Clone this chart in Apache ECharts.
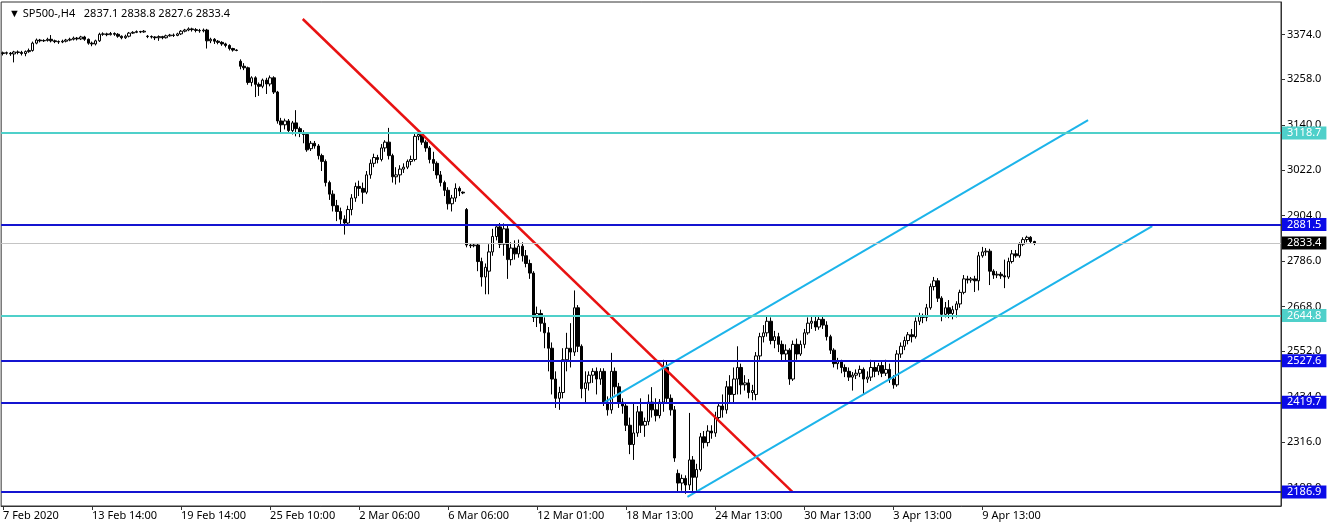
<!DOCTYPE html>
<html><head><meta charset="utf-8">
<script src="https://cdn.jsdelivr.net/npm/echarts/dist/echarts.min.js"></script>
<style>html,body{margin:0;padding:0;background:#fff}#c{width:1332px;height:528px}</style>
</head><body><div id="c"></div>
<script>
const symbolName = 'SP500-,H4';
const opens = [
3325,3327,3326,3324,3329,3328,3325,3330,3333,3352,
3360,3358,3359,3362,3358,3356,3355,3357,3360,3362,
3365,3363,3368,3362,3352,3350,3358,3375,3376,3374,
3377,3375,3370,3366,3370,3378,3380,3382,3381,3370,
3369,3368,3366,3369,3366,3371,3373,3372,3376,3383,
3386,3389,3387,3385,3384,3386,3358,3362,3357,3354,
3350,3346,3338,3334,3305,3292,3288,3250,3262,3245,
3240,3256,3246,3262,3225,3150,3140,3150,3125,3145,
3130,3120,3115,3078,3092,3085,3060,3045,2990,2960,
2930,2915,2895,2885,2920,2950,2980,2975,2965,3010,
3040,3055,3050,3080,3095,3060,3005,3010,3025,3030,
3045,3050,3110,3115,3095,3080,3050,3040,3010,2990,
2970,2935,2950,2975,2965,2920,2828,2826,2828,2785,
2745,2760,2810,2850,2875,2830,2870,2790,2820,2805,
2825,2800,2780,2755,2640,2650,2625,2600,2560,2480,
2430,2445,2530,2560,2550,2665,2565,2455,2470,2490,
2500,2480,2500,2420,2400,2500,2460,2420,2410,2360,
2310,2340,2395,2360,2370,2420,2400,2385,2420,2510,
2430,2400,2235,2210,2222,2205,2270,2225,2245,2330,
2315,2345,2340,2380,2410,2400,2460,2440,2480,2510,
2465,2470,2445,2440,2540,2590,2600,2630,2580,2590,
2570,2545,2555,2480,2570,2545,2570,2600,2625,2630,
2615,2635,2620,2590,2555,2520,2525,2510,2500,2485,
2490,2495,2505,2480,2485,2510,2500,2515,2495,2505,
2480,2465,2545,2565,2580,2595,2590,2630,2645,2640,
2665,2720,2735,2690,2648,2665,2650,2660,2675,2705,
2740,2737,2740,2735,2800,2810,2812,2760,2750,2752,
2748,2745,2785,2805,2800,2830,2842,2848,2837.1];
const closes = [
3327,3326,3324,3329,3328,3325,3330,3333,3352,3360,
3358,3359,3362,3358,3356,3355,3357,3360,3362,3365,
3363,3368,3362,3352,3350,3358,3375,3376,3374,3377,
3375,3370,3366,3370,3378,3380,3382,3381,3383,3369,
3368,3366,3369,3366,3371,3373,3372,3376,3383,3386,
3389,3387,3385,3384,3386,3358,3362,3357,3354,3350,
3346,3338,3334,3333,3292,3288,3250,3262,3245,3240,
3256,3246,3262,3225,3150,3140,3150,3125,3145,3130,
3120,3115,3075,3092,3085,3060,3045,2990,2960,2930,
2915,2895,2885,2920,2950,2980,2975,2965,3010,3040,
3055,3050,3080,3095,3060,3005,3010,3025,3030,3045,
3050,3110,3115,3095,3080,3050,3040,3010,2990,2970,
2935,2950,2975,2968,2963,2828,2826,2828,2785,2745,
2770,2810,2850,2875,2830,2870,2790,2820,2805,2825,
2800,2780,2755,2640,2650,2625,2600,2560,2480,2430,
2445,2530,2560,2550,2665,2565,2455,2470,2490,2500,
2480,2500,2420,2400,2500,2460,2420,2410,2360,2310,
2340,2395,2360,2370,2420,2400,2385,2420,2510,2430,
2400,2275,2210,2222,2205,2270,2225,2245,2330,2315,
2345,2340,2380,2410,2400,2460,2440,2480,2510,2465,
2470,2445,2450,2540,2590,2600,2630,2580,2590,2570,
2545,2555,2480,2570,2545,2570,2600,2625,2630,2615,
2635,2620,2590,2555,2520,2525,2510,2500,2485,2490,
2495,2505,2480,2485,2510,2500,2515,2495,2505,2480,
2465,2545,2565,2580,2595,2590,2630,2645,2640,2665,
2720,2735,2690,2648,2665,2650,2660,2675,2705,2740,
2737,2740,2735,2800,2810,2812,2760,2750,2752,2748,
2745,2785,2805,2800,2830,2842,2848,2837,2833.4];
const lows = [
3320,3322,3319,3302,3323,3320,3318,3327,3330,3349,
3354,3355,3356,3354,3352,3350,3352,3354,3357,3359,
3359,3360,3358,3348,3344,3346,3355,3371,3370,3372,
3371,3366,3362,3363,3367,3376,3378,3378,3379,3365,
3364,3360,3358,3362,3364,3369,3368,3370,3373,3380,
3383,3382,3380,3379,3380,3338,3352,3350,3349,3345,
3341,3333,3330,3331,3284,3282,3244,3240,3212,3215,
3235,3220,3240,3220,3143,3120,3128,3118,3115,3110,
3108,3092,3070,3072,3078,3050,3020,2980,2945,2915,
2890,2880,2855,2880,2905,2940,2955,2935,2960,3000,
3030,3040,3045,3070,3050,2990,2985,2990,3015,3025,
3035,3045,3100,3088,3070,3040,3020,3000,2980,2955,
2920,2915,2940,2955,2960,2822,2820,2822,2760,2720,
2700,2700,2800,2840,2820,2800,2740,2775,2790,2795,
2785,2770,2740,2628,2615,2603,2560,2500,2440,2405,
2400,2430,2500,2510,2540,2550,2430,2420,2450,2470,
2440,2465,2410,2385,2390,2440,2405,2390,2345,2285,
2270,2330,2340,2330,2360,2380,2370,2378,2395,2420,
2385,2265,2188,2190,2182,2192,2185,2188,2240,2300,
2305,2325,2330,2370,2380,2390,2420,2420,2440,2440,
2450,2430,2425,2425,2530,2575,2590,2570,2560,2550,
2525,2525,2465,2475,2530,2540,2560,2595,2610,2605,
2608,2610,2580,2545,2510,2505,2495,2485,2475,2450,
2480,2485,2440,2470,2475,2485,2490,2485,2488,2470,
2455,2460,2535,2555,2570,2575,2585,2620,2625,2630,
2660,2710,2680,2630,2640,2638,2635,2640,2665,2700,
2728,2730,2706,2710,2795,2800,2724,2740,2742,2740,
2716,2740,2780,2795,2795,2825,2835,2832,2827.6];
const highs = [
3330,3330,3329,3332,3333,3332,3333,3338,3356,3364,
3363,3362,3366,3373,3361,3359,3361,3363,3366,3369,
3368,3371,3371,3364,3356,3361,3379,3380,3379,3381,
3380,3378,3372,3374,3381,3383,3385,3384,3386,3373,
3372,3370,3372,3371,3374,3376,3377,3379,3386,3389,
3393,3392,3391,3389,3390,3389,3366,3365,3360,3357,
3353,3349,3340,3336,3310,3300,3291,3266,3266,3250,
3260,3262,3268,3266,3228,3158,3156,3155,3150,3178,
3135,3126,3118,3098,3098,3090,3065,3050,2995,2970,
2945,2925,2905,2930,2960,2990,2995,2990,3020,3050,
3065,3062,3090,3100,3132,3065,3030,3035,3040,3050,
3060,3118,3122,3118,3100,3085,3070,3045,3020,2995,
2978,2958,2988,2980,2967,2924,2832,2831,2832,2795,
2780,2830,2870,2882,2885,2884,2878,2835,2840,2842,
2835,2815,2790,2760,2668,2660,2640,2615,2575,2500,
2460,2560,2600,2625,2710,2672,2570,2500,2500,2508,
2510,2508,2508,2435,2548,2510,2470,2430,2420,2380,
2420,2410,2430,2380,2440,2459,2430,2428,2530,2525,
2440,2410,2245,2232,2230,2392,2280,2260,2340,2345,
2360,2360,2395,2420,2440,2475,2490,2510,2565,2520,
2490,2480,2465,2550,2600,2620,2645,2640,2605,2600,
2580,2570,2560,2580,2585,2580,2610,2640,2645,2645,
2645,2645,2630,2595,2560,2535,2530,2518,2510,2498,
2505,2515,2510,2500,2530,2525,2522,2525,2530,2520,
2490,2555,2575,2590,2602,2610,2640,2652,2650,2675,
2728,2745,2742,2695,2680,2685,2670,2682,2712,2750,
2748,2745,2748,2810,2823,2820,2818,2765,2760,2758,
2790,2795,2815,2815,2835,2848,2852,2851,2838.8];
const xLabels = ['7 Feb 2020','13 Feb 14:00','19 Feb 14:00','25 Feb 10:00','2 Mar 06:00','6 Mar 06:00','12 Mar 01:00','18 Mar 13:00','24 Mar 13:00','30 Mar 13:00','3 Apr 13:00','9 Apr 13:00'];
const yTicks = [3374.0, 3258.0, 3140.0, 3022.0, 2904.0, 2786.0, 2668.0, 2552.0, 2434.0, 2316.0, 2198.0];
const turquoiseLevels = [3118.7, 2644.8];
const blueLevels = [2881.5, 2527.6, 2419.7, 2186.9];
const redTrend = [[80.8, 3414.7], [212.8, 2186.9]];
const channelUpper = [[162.2, 2420.0], [292.5, 3152.0]];
const channelLower = [[184.5, 2174.0], [309.8, 2877.0]];
const yMin = 2150.4, yMax = 3458.8;

const SLOTS = 345, LABEL_EVERY = 24;
const FONT = 'Noto Sans';
const FS = 11;
const TURQ = '#4fd0ca', BLUE_LINE = '#1414d0', BLUE_LBL = '#0a0ae8', RED = '#e81212', CYAN = '#1cb4ea';

const n = closes.length, last = n - 1;
const candleData = opens.map((o, i) => [o, closes[i], lows[i], highs[i]]);
const categories = Array.from({length: SLOTS}, (_, i) => String(i));
const showIdx = (i) => i % LABEL_EVERY === 0 && (i / LABEL_EVERY) < xLabels.length;

const markData = [
  ...turquoiseLevels.map(v => ({yAxis: v, lineStyle: {color: TURQ, width: 2, type: 'solid'}, label: {backgroundColor: TURQ}})),
  ...blueLevels.map(v => ({yAxis: v, lineStyle: {color: BLUE_LINE, width: 2, type: 'solid'}, label: {backgroundColor: BLUE_LBL}})),
  {yAxis: closes[last], lineStyle: {color: '#c4c4c4', width: 1, type: 'solid'}, label: {backgroundColor: '#000'}}
];

const trend = (d, color, w) => ({
  type: 'line', xAxisIndex: 1, yAxisIndex: 0, data: d, symbol: 'none', silent: true,
  lineStyle: {color: color, width: w}, z: 4, animation: false
});

const chart = echarts.init(document.getElementById('c'));
chart.setOption({
  animation: false,
  backgroundColor: '#fff',
  title: {
    text: '\u25BC ' + symbolName + '   ' + [opens[last], highs[last], lows[last], closes[last]].map(v => v.toFixed(1)).join(' '),
    left: 4, top: 3,
    textStyle: {fontFamily: FONT, fontSize: FS, fontWeight: 'normal', color: '#000'}
  },
  grid: {left: 1, right: 51, top: 2, bottom: 22, show: true, borderColor: '#333', borderWidth: 1, backgroundColor: '#fff'},
  xAxis: [{
    type: 'category', data: categories, boundaryGap: true,
    axisLine: {show: true, onZero: false, lineStyle: {color: '#333'}},
    axisTick: {show: true, alignWithLabel: true, interval: showIdx, length: 4, lineStyle: {color: '#333'}},
    axisLabel: {interval: showIdx, formatter: (v, i) => xLabels[i / LABEL_EVERY] || '', align: 'left', margin: 4,
      fontFamily: FONT, fontSize: FS, color: '#000'},
    splitLine: {show: false}
  }, {
    type: 'value', min: -0.5, max: SLOTS - 0.5, show: false
  }],
  yAxis: {
    type: 'value', position: 'right', min: yMin, max: yMax,
    axisLine: {show: true, onZero: false, lineStyle: {color: '#333'}},
    axisTick: {show: true, length: 4, customValues: yTicks, lineStyle: {color: '#333'}},
    axisLabel: {customValues: yTicks, formatter: v => v.toFixed(1), margin: 6, fontFamily: FONT, fontSize: FS, color: '#000'},
    splitLine: {show: false}
  },
  series: [{
    type: 'candlestick', data: candleData, barWidth: 3,
    itemStyle: {color: '#fff', color0: '#000', borderColor: '#000', borderColor0: '#000', borderWidth: 1},
    markLine: {
      symbol: ['none', 'none'], silent: true, animation: false,
      label: {show: true, position: 'end', formatter: p => Number(p.value).toFixed(1), color: '#fff',
        fontFamily: FONT, fontSize: FS, padding: [1, 5, 0, 5], lineHeight: 12, distance: 1},
      data: markData
    }
  },
  trend(redTrend, RED, 2.5),
  trend(channelUpper, CYAN, 2),
  trend(channelLower, CYAN, 2)]
});
</script></body></html>
